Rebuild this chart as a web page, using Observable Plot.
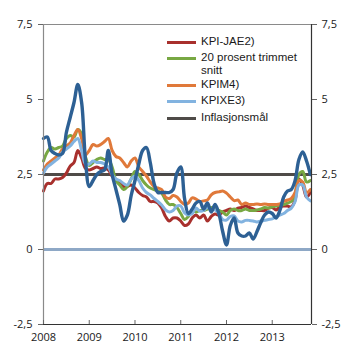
<!DOCTYPE html>
<html>
<head>
<meta charset="utf-8">
<script src="https://cdn.jsdelivr.net/npm/d3@7"></script>
<script src="https://cdn.jsdelivr.net/npm/@observablehq/plot@0.6"></script>
<style>
  body { margin: 0; background: #fff; }
  #wrap { position: relative; width: 350px; height: 362px; font-family: "Open Sans", sans-serif; }
  #legend { position: absolute; left: 167px; top: 35px; font-family: "Liberation Sans", Arial, sans-serif; font-size: 11.5px; color: #1a1a1a; line-height: 13px; }
  .item { position: absolute; left: 0; white-space: nowrap; }
  .sw { position: absolute; left: 0; width: 29px; height: 3px; }
  .lab { position: absolute; left: 34px; top: 0; }
</style>
</head>
<body>
<div id="wrap"><div id="legend"></div></div>
<script>
// Monthly data, Jan 2008 .. Nov 2013 (12-month change, percent)
const startYear = 2008;
const yearLabels = ["2008", "2009", "2010", "2011", "2012", "2013"];
const yTicks = [-2.5, 0, 2.5, 5, 7.5];
const yTickLabels = ["-2,5", "0", "2,5", "5", "7,5"];
const inflationTarget = 2.5;

const kpi = [3.7,3.75,3.3,3.2,3.15,3.2,3.9,4.4,4.9,5.5,4.9,3.0,2.1,2.3,2.5,2.6,2.65,3.3,2.5,2.0,
  1.5,0.95,1.15,1.8,2.3,2.85,3.3,3.4,2.9,2.2,1.9,1.9,1.9,1.9,2.0,2.55,2.75,1.7,1.2,1.35,
  1.55,1.6,1.35,1.55,1.25,1.5,1.2,0.6,0.15,0.8,1.05,0.55,0.45,0.45,0.55,0.35,0.6,0.9,1.15,1.25,
  1.2,1.05,1.3,1.75,1.95,2.0,2.3,3.0,3.25,2.95,2.5];
const kpiJae = [1.95,2.2,2.2,2.35,2.35,2.4,2.55,2.78,2.9,3.3,3.05,2.7,2.65,2.7,2.75,2.7,2.72,2.65,2.45,2.3,
  2.25,2.1,2.1,2.15,2.05,1.9,1.8,1.75,1.6,1.6,1.55,1.38,1.1,0.95,1.05,1.05,0.95,0.8,0.85,1.05,
  1.15,1.05,1.15,0.95,1.1,1.18,1.15,1.25,1.3,1.35,1.3,1.38,1.4,1.45,1.4,1.35,1.3,1.3,1.3,1.38,
  1.4,1.32,1.42,1.45,1.45,1.42,1.65,2.35,2.15,1.75,1.9];
const trimmed = [2.95,3.25,3.4,3.35,3.4,3.45,3.7,3.8,3.75,4.0,3.85,3.1,2.8,2.9,3.0,3.05,3.0,3.0,2.75,2.3,
  2.15,2.0,2.1,2.35,2.6,2.5,2.3,2.15,2.05,2.0,1.95,1.88,1.65,1.5,1.5,1.4,1.2,1.0,1.1,1.3,
  1.25,1.3,1.3,1.35,1.4,1.36,1.3,1.25,1.15,1.3,1.35,1.3,1.3,1.35,1.3,1.3,1.32,1.35,1.4,1.38,
  1.42,1.45,1.48,1.5,1.55,1.6,1.85,2.5,2.6,2.25,2.3];
const kpim = [2.65,2.85,2.95,3.05,3.15,3.35,3.45,3.55,3.8,4.0,3.7,3.15,3.3,3.5,3.45,3.5,3.6,3.7,3.3,3.1,
  3.05,2.9,2.75,2.95,3.05,2.75,2.6,2.45,2.25,2.1,2.05,2.0,1.75,1.7,1.8,1.75,1.6,1.5,1.55,1.72,
  1.68,1.6,1.62,1.65,1.82,1.9,1.92,1.95,1.88,1.75,1.63,1.65,1.5,1.55,1.5,1.5,1.52,1.5,1.52,1.5,
  1.5,1.5,1.52,1.6,1.65,1.7,1.9,2.3,2.25,1.9,2.0];
const kpixe = [2.55,2.75,2.85,2.95,3.05,3.25,3.35,3.45,3.6,3.7,3.3,2.85,2.85,2.95,2.9,2.9,2.85,2.75,2.5,2.35,
  2.3,2.2,2.15,2.35,2.45,2.3,2.05,1.9,1.82,1.7,1.6,1.48,1.32,1.25,1.3,1.45,1.45,1.22,1.15,1.2,
  1.38,1.28,1.3,1.4,1.32,1.32,1.2,1.0,0.98,1.1,1.12,0.95,0.92,0.97,0.97,0.95,0.92,0.95,0.97,1.0,
  1.02,1.1,1.15,1.2,1.3,1.38,1.6,2.15,2.15,1.75,1.62];

const seriesNames = ["KPI-JAE2)", "20 prosent trimmet snitt", "KPIM4)", "KPIXE3)", "KPI"];
const seriesValues = [kpiJae, trimmed, kpim, kpixe, kpi];
const seriesColors = ["#a8302d", "#78a843", "#e0793a", "#82b3e0", "#2d6094"];
const seriesWidths = [3, 3, 3, 3, 3.4];

const series = seriesNames.map((name, k) => ({
  name, color: seriesColors[k], width: seriesWidths[k],
  rows: seriesValues[k].map((v, i) => ({month: i, value: v}))
}));

const nMonths = kpi.length;
const xMax = nMonths - 0.7;
const yearTicks = yearLabels.map((_, j) => j * 12);

const plot = Plot.plot({
  width: 350,
  height: 362,
  marginLeft: 43,
  marginRight: 39,
  marginTop: 24,
  marginBottom: 38,
  style: {fontFamily: "Open Sans, sans-serif", fontSize: "11px", color: "#1a1a1a", background: "#fff"},
  x: {domain: [0, xMax]},
  y: {domain: [yTicks[0], yTicks[yTicks.length - 1]]},
  marks: [
    Plot.ruleY([0], {stroke: "#8ea8c6", strokeWidth: 3}),
    Plot.ruleY([inflationTarget], {stroke: "#4f4b48", strokeWidth: 3}),
    ...series.map(s => Plot.line(s.rows, {x: "month", y: "value", stroke: s.color, strokeWidth: s.width, curve: "catmull-rom"})),
    Plot.ruleX([0], {stroke: "#8a8a8a", strokeWidth: 1.2}),
    Plot.ruleX([xMax], {stroke: "#333", strokeWidth: 1.2}),
    Plot.ruleY([yTicks[yTicks.length - 1]], {stroke: "#8a8a8a", strokeWidth: 1.2}),
    Plot.ruleY([yTicks[0]], {stroke: "#333", strokeWidth: 1.2}),
    Plot.axisY({anchor: "left", ticks: yTicks, tickFormat: (d) => yTickLabels[yTicks.indexOf(d)], tickSize: 5, tickPadding: 6, stroke: "#666", label: null}),
    Plot.axisY({anchor: "right", ticks: yTicks, tickFormat: (d) => yTickLabels[yTicks.indexOf(d)], tickSize: 5, tickPadding: 5, stroke: "#666", label: null}),
    Plot.axisX({anchor: "bottom", ticks: yearTicks, tickFormat: (d) => yearLabels[yearTicks.indexOf(d)], tickSize: -4, tickPadding: 13, stroke: "#666", label: null})
  ]
});

document.getElementById("wrap").prepend(plot);
plot.style.position = "absolute";
plot.style.left = "0";
plot.style.top = "0";

// Legend (four labelled measures + target)
const legendItems = [
  {label: "KPI-JAE2)", color: seriesColors[0], top: 0},
  {label: "20 prosent trimmet<br>snitt", color: seriesColors[1], top: 16},
  {label: "KPIM4)", color: seriesColors[2], top: 43},
  {label: "KPIXE3)", color: seriesColors[3], top: 59},
  {label: "Inflasjonsmål", color: "#4f4b48", top: 76}
];
const legend = document.getElementById("legend");
legendItems.forEach(it => {
  const d = document.createElement("div");
  d.className = "item";
  d.style.top = it.top + "px";
  d.innerHTML = `<div class="sw" style="background:${it.color};top:6px"></div><div class="lab">${it.label}</div>`;
  legend.appendChild(d);
});
</script>
</body>
</html>
